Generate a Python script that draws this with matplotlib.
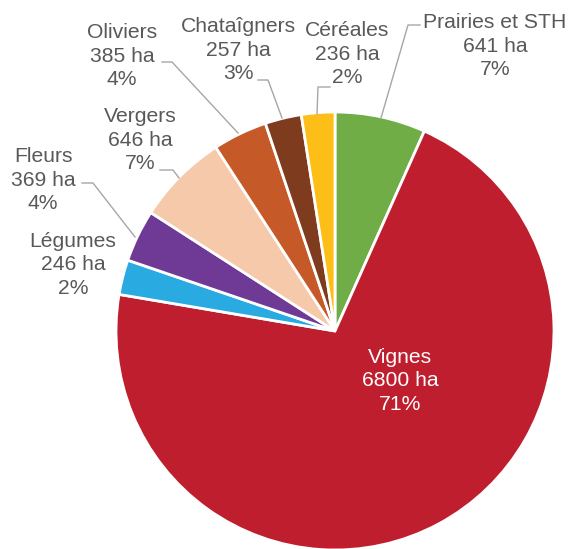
import matplotlib.pyplot as plt

# data
names = ['Prairies et STH', 'Vignes', 'Légumes', 'Fleurs', 'Vergers',
         'Oliviers', 'Chataîgners', 'Céréales']
hectares = [641, 6800, 246, 369, 646, 385, 257, 236]
percents = [7, 71, 2, 4, 7, 4, 3, 2]
colors = ['#70AD47', '#BE1E2D', '#29ABE2', '#6F3996', '#F6C9AB',
          '#C55A28', '#7E3B1E', '#FDBE18']

W, H = 568, 549
plt.rcParams['font.family'] = ['Liberation Sans', 'DejaVu Sans']

fig = plt.figure(figsize=(W / 100, H / 100), dpi=100)
ax = fig.add_axes([0, 0, 1, 1])

cx, cy, r = 335, H - 331, 219
ax.pie(hectares, colors=colors, startangle=90, counterclock=False,
       center=(cx, cy), radius=r, frame=True,
       wedgeprops=dict(edgecolor='white', linewidth=2))
ax.set_xlim(0, W)
ax.set_ylim(0, H)
ax.set_aspect('equal')
ax.axis('off')

# label centres (px from top-left) and leader lines
label_pos = [(495, 46), (400, 381), (73, 265), (43, 180), (140, 140),
             (122, 56), (238, 50), (347, 54)]
leaders = [
    [(420, 25), (408, 25), (381, 118)],
    None,
    None,
    [(82, 183), (93, 183), (135, 237)],
    [(160, 170), (173, 170), (179, 178)],
    [(162, 62), (172, 62), (238, 133)],
    [(258, 80), (268, 80), (282, 118)],
    [(330, 87), (318, 87), (317, 114)],
]

for i, name in enumerate(names):
    x, y = label_pos[i]
    txt = f'{name}\n{hectares[i]} ha\n{percents[i]}%'
    col = 'white' if name == 'Vignes' else '#595959'
    ax.text(x, H - y, txt, ha='center', va='center', fontsize=15.2,
            color=col, linespacing=1.28)
    if leaders[i]:
        xs = [p[0] for p in leaders[i]]
        ys = [H - p[1] for p in leaders[i]]
        ax.plot(xs, ys, color='#A6A6A6', lw=1)

fig.savefig('out.png', dpi=100)
